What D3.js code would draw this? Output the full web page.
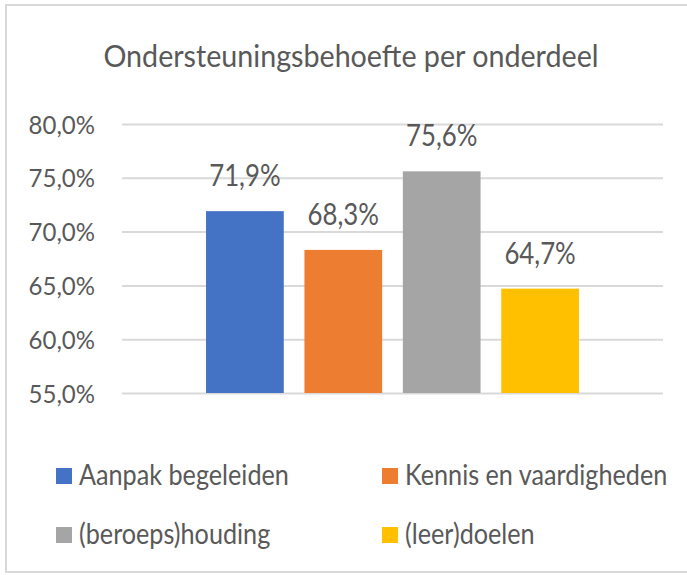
<!DOCTYPE html>
<html>
<head>
<meta charset="utf-8">
<script src="https://cdn.jsdelivr.net/npm/d3@7/dist/d3.min.js"></script>
<style>
  html, body { margin: 0; padding: 0; background: #ffffff; }
  svg { display: block; }
  text { font-family: Lato, "Open Sans", sans-serif; fill: #595959; }
</style>
</head>
<body>
<svg id="chart" width="687" height="575"></svg>
<script>
const title = "Ondersteuningsbehoefte per onderdeel";
const series = ["Aanpak begeleiden", "Kennis en vaardigheden", "(beroeps)houding", "(leer)doelen"];
const values = [71.9, 68.3, 75.6, 64.7];
const colors = ["#4472C4", "#ED7D31", "#A5A5A5", "#FFC000"];
const yTicks = [55, 60, 65, 70, 75, 80];

const svg = d3.select("#chart");
const W = 687, H = 575;

// horizontal condensing around each text's own anchor point
function squeeze(k) {
  return function (sel) {
    sel.each(function () {
      const ax = +(this.getAttribute("x") || 0);
      const ay = +(this.getAttribute("y") || 0);
      this.setAttribute("transform",
        `translate(${ax},${ay}) scale(${k},1) translate(${-ax},${-ay})`);
    });
  };
}

// frame (right edge falls outside the picture)
const frame = svg.append("g").attr("stroke", "#D9D9D9").attr("stroke-width", 2).attr("fill", "none");
frame.append("path").attr("d", `M${W},5 H6 V572 H${W}`);

const plot = { left: 122, right: 663, top: 124, bottom: 393 };

const y = d3.scaleLinear().domain([55, 80]).range([plot.bottom, plot.top]);
const x = d3.scaleBand().domain(series).range([plot.left, plot.right])
  .paddingInner(0.21).paddingOuter(0.854);

// title
svg.append("text")
  .attr("x", 351).attr("y", 67)
  .attr("text-anchor", "middle")
  .attr("font-size", 30.5)
  .text(title)
  .call(squeeze(0.94));

// gridlines + tick labels
const yAxis = d3.axisLeft(y).tickValues(yTicks)
  .tickSize(-(plot.right - plot.left))
  .tickPadding(27)
  .tickFormat(d => d3.format(".1f")(d).replace(".", ",") + "%");

const gAxis = svg.append("g")
  .attr("transform", `translate(${plot.left},0)`)
  .call(yAxis);
gAxis.select(".domain").remove();
gAxis.selectAll(".tick line").attr("stroke", "#D9D9D9").attr("stroke-width", 2);
gAxis.selectAll(".tick text")
  .attr("font-size", 25)
  .attr("fill", "#595959")
  .attr("font-family", "Lato, 'Open Sans', sans-serif")
  .attr("dy", "0.36em")
  .call(squeeze(0.96));

// bars
svg.append("g").selectAll("rect")
  .data(series)
  .join("rect")
  .attr("x", d => x(d))
  .attr("width", x.bandwidth())
  .attr("y", (d, i) => y(values[i]))
  .attr("height", (d, i) => y(55) - y(values[i]))
  .attr("fill", (d, i) => colors[i]);

// data labels
svg.append("g").selectAll("text")
  .data(series)
  .join("text")
  .attr("x", d => x(d) + x.bandwidth() / 2)
  .attr("y", (d, i) => y(values[i]) - 25)
  .attr("text-anchor", "middle")
  .attr("font-size", 30)
  .text((d, i) => d3.format(".1f")(values[i]).replace(".", ",") + "%")
  .call(squeeze(0.86));

// legend
const legendPos = [
  { x: 56, y: 468 }, { x: 382, y: 468 },
  { x: 56, y: 527 }, { x: 382, y: 527 }
];
const lg = svg.append("g").selectAll("g")
  .data(series)
  .join("g")
  .attr("transform", (d, i) => `translate(${legendPos[i].x},${legendPos[i].y})`);
lg.append("rect")
  .attr("width", 16).attr("height", 16)
  .attr("fill", (d, i) => colors[i]);
lg.append("text")
  .attr("x", 23).attr("y", 17)
  .attr("font-size", 28)
  .text(d => d)
  .call(squeeze(0.9));
</script>
</body>
</html>
